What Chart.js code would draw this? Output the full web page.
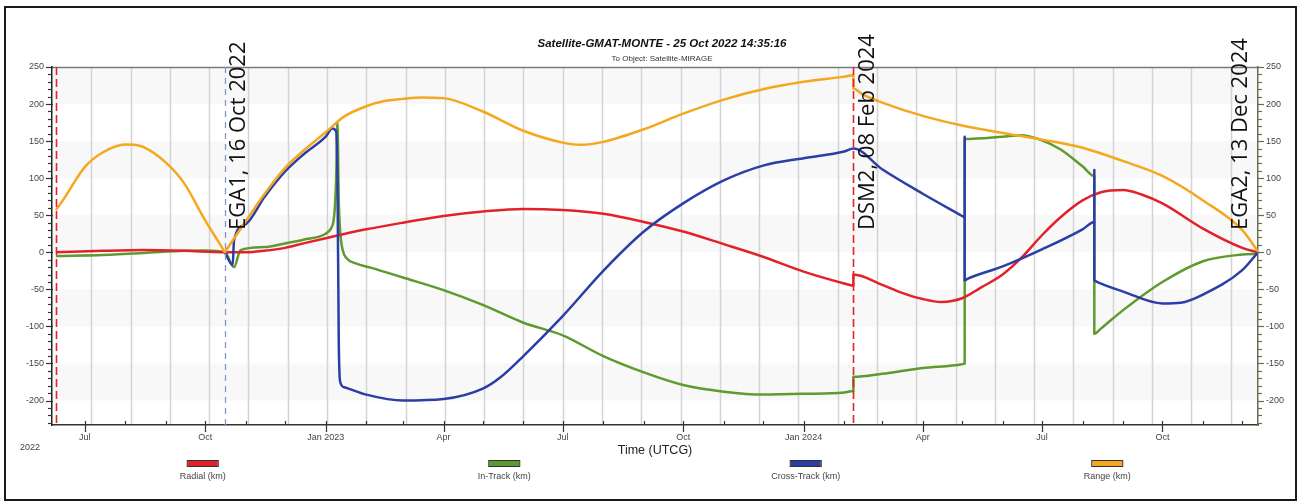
<!DOCTYPE html>
<html><head><meta charset="utf-8">
<script src="https://cdn.jsdelivr.net/npm/chart.js@4.4.1/dist/chart.umd.min.js"></script>
<style>
html,body{margin:0;padding:0;background:#fff;}
#wrap{position:relative;width:1301px;height:502px;overflow:hidden;background:#fff;}
#frame{position:absolute;left:4px;top:6px;width:1293px;height:495px;border:2.5px solid #1a1a1a;box-sizing:border-box;pointer-events:none;}
canvas{position:absolute;left:0;top:0;}
</style></head><body>
<div id="wrap"><canvas id="c" width="1301" height="502"></canvas><div id="frame"></div></div>
<script>
// ---------- DATA ----------
const chartTitle = 'Satellite-GMAT-MONTE - 25 Oct 2022 14:35:16';
const chartSubtitle = 'To Object: Satellite-MIRAGE';
const xAxisTitle = 'Time (UTCG)';
const yearLabel = '2022';
const xStart = '2022-06-06';
const xEnd = '2024-12-13';
const yMin = -233, yMax = 250;

const quarterDates  = ['2022-07-01','2022-10-01','2023-01-01','2023-04-01','2023-07-01','2023-10-01','2024-01-01','2024-04-01','2024-07-01','2024-10-01'];
const quarterLabels = ['Jul','Oct','Jan 2023','Apr','Jul','Oct','Jan 2024','Apr','Jul','Oct'];

const seriesNames  = ['Radial (km)','In-Track (km)','Cross-Track (km)','Range (km)'];
const seriesColors = ['#e3212b','#5f9a2e','#2b3ea6','#f5a71e'];

const radialDates = ['2022-06-09','2022-07-15','2022-08-15','2022-09-15','2022-10-16','2022-11-01','2022-11-15','2022-12-01','2022-12-15','2023-01-01','2023-02-01','2023-03-01','2023-04-01','2023-05-01','2023-06-01','2023-07-01','2023-08-01','2023-09-01','2023-10-01','2023-11-01','2023-12-01','2024-01-01','2024-02-01','2024-02-08','2024-02-08','2024-03-01','2024-03-15','2024-04-01','2024-04-15','2024-05-01','2024-05-15','2024-06-01','2024-06-15','2024-07-01','2024-07-15','2024-08-01','2024-08-15','2024-09-01','2024-09-15','2024-10-01','2024-11-01','2024-12-01','2024-12-13'];
const radialKm    = [0,2,3,2,0,0,2,6,12,19,31,40,49,55,58.5,57,52,41,28,11,-6,-26,-42,-45,-30,-44,-54,-63,-67,-62,-48,-30,-8,23,47,70,81,84,78,66,32,6,0];

const inTrackDates = ['2022-06-09','2022-07-15','2022-08-15','2022-09-15','2022-10-01','2022-10-16','2022-10-23','2022-10-28','2022-11-15','2022-12-01','2022-12-15','2023-01-01','2023-01-05','2023-01-07','2023-01-08','2023-01-09','2023-01-10','2023-01-11','2023-01-12','2023-01-14','2023-01-17','2023-01-24','2023-02-05','2023-03-01','2023-04-01','2023-05-01','2023-06-01','2023-07-01','2023-08-01','2023-09-01','2023-10-01','2023-11-01','2023-12-01','2024-01-01','2024-02-01','2024-02-08','2024-02-08','2024-03-01','2024-04-01','2024-05-01','2024-05-03','2024-05-03','2024-06-01','2024-06-15','2024-07-01','2024-07-15','2024-08-01','2024-08-10','2024-08-10','2024-08-15','2024-09-01','2024-10-01','2024-11-01','2024-12-01','2024-12-13'];
const inTrackKm    = [-5,-3.5,-1,2,2.5,0,-20,3,7,12,17,25,32,42,60,100,176,70,30,3,-8,-15,-21,-34,-51,-71,-95,-112,-140,-162,-179,-188,-192,-191,-189,-187,-168,-164,-156,-151,-150,153,156,158,151,139,116,103,-110,-103,-78,-40,-12,-3,-2];

const crossTrackDates = ['2022-10-16','2022-10-22','2022-10-23','2022-11-01','2022-11-15','2022-12-01','2022-12-15','2023-01-01','2023-01-06','2023-01-09','2023-01-10','2023-01-11','2023-01-12','2023-01-15','2023-02-01','2023-03-01','2023-04-01','2023-05-01','2023-05-15','2023-06-01','2023-07-01','2023-08-01','2023-09-01','2023-10-01','2023-11-01','2023-12-01','2024-01-01','2024-02-01','2024-02-08','2024-03-01','2024-04-01','2024-05-01','2024-05-03','2024-05-03','2024-05-03','2024-05-05','2024-06-01','2024-07-01','2024-08-01','2024-08-10','2024-08-10','2024-08-10','2024-08-12','2024-09-01','2024-10-01','2024-10-15','2024-11-01','2024-12-01','2024-12-13'];
const crossTrackKm    = [0,-17,16,38,74,109,132,156,167,163,100,-120,-174,-182,-192,-200,-198,-184,-168,-140,-86,-25,28,66,97,117,127,136,140,112,79,49,47,156,-38,-36,-19,4,31,41,111,-38,-40,-53,-69,-68,-57,-24,0];

const rangeDates = ['2022-06-09','2022-06-15','2022-07-01','2022-07-15','2022-08-01','2022-08-08','2022-08-15','2022-09-01','2022-09-15','2022-10-01','2022-10-08','2022-10-15','2022-10-16','2022-10-17','2022-10-22','2022-11-01','2022-11-15','2022-12-01','2022-12-15','2023-01-01','2023-01-15','2023-02-01','2023-02-15','2023-03-01','2023-03-15','2023-04-01','2023-05-01','2023-06-01','2023-07-01','2023-07-15','2023-08-01','2023-09-01','2023-10-01','2023-11-01','2023-12-01','2024-01-01','2024-02-01','2024-02-08','2024-02-08','2024-02-15','2024-03-01','2024-04-01','2024-05-01','2024-06-01','2024-07-01','2024-08-01','2024-09-01','2024-10-01','2024-11-01','2024-12-01','2024-12-13'];
const rangeKm    = [57,72,115,135,145.5,145,142,121,93,43,23,3,0,2.7,16,42,78,114,137,162,183,197,204,207,209,208,190,164,148,145,149,166,187,206,220,230,237,239,221,213,202,184,171,161,152,141,123,103,70,30,1];

const eventDates  = ['2022-06-09','2022-10-16','2024-02-08','2024-12-13'];
const eventLabels = ['','EGA1, 16 Oct 2022','DSM2, 08 Feb 2024','EGA2, 13 Dec 2024'];

// ---------- HELPERS ----------
const DAY0 = Date.UTC(2022,0,1);
function toDay(s){const p=s.split('-').map(Number);return (Date.UTC(p[0],p[1]-1,p[2])-DAY0)/86400000;}
function pts(dates, vals){return dates.map((d,i)=>({x:toDay(d),y:vals[i]}));}

const monthTicks = [];
for (let y=2022; y<=2024; y++) for (let m=0; m<12; m++) {
  const d = (Date.UTC(y,m,1)-DAY0)/86400000;
  if (d >= toDay(xStart) && d <= toDay(xEnd)) monthTicks.push(d);
}
const quarterDays = quarterDates.map(toDay);
const yTickVals = [];
for (let v=-230; v<=250; v+=10) yTickVals.push(v);

const FONT = '"Liberation Sans", Arial, sans-serif';

const decor = {
  id:'decor',
  beforeDraw(chart){
    const {ctx, chartArea:a, scales} = chart;
    const y = scales.y, x = scales.x;
    ctx.save();
    ctx.fillStyle = '#f8f8f8';
    for (let v=250; v>yMin; v-=100){
      const top = y.getPixelForValue(v), bot = y.getPixelForValue(Math.max(v-50, yMin));
      ctx.fillRect(a.left, top, a.right-a.left, bot-top);
    }
    ctx.strokeStyle = '#d4d4d4'; ctx.lineWidth = 1.5;
    for (let d = toDay('2022-07-06'); d < toDay(xEnd); d += 30){
      const px = Math.round(x.getPixelForValue(d))+0.5;
      if (px <= a.left+1 || px >= a.right-1) continue;
      ctx.beginPath(); ctx.moveTo(px, a.top); ctx.lineTo(px, a.bottom); ctx.stroke();
    }
    ctx.restore();
  },
  afterDatasetsDraw(chart){
    const {ctx, chartArea:a, scales} = chart;
    const x = scales.x, y = scales.y;
    ctx.save();
    ctx.strokeStyle = '#7a7a7a'; ctx.lineWidth = 1.5;
    ctx.beginPath(); ctx.moveTo(a.left, a.top+0.5); ctx.lineTo(a.right, a.top+0.5); ctx.stroke();
    eventDates.forEach((d,i)=>{
      if (i===3) return;
      const px = Math.round(x.getPixelForValue(toDay(d)))+0.5;
      ctx.setLineDash(i===1 ? [6,5] : [8,4]);
      ctx.strokeStyle = i===1 ? '#7f98c8' : '#e3212b';
      ctx.lineWidth = i===1 ? 1.3 : 1.6;
      ctx.beginPath(); ctx.moveTo(px, a.top); ctx.lineTo(px, a.bottom); ctx.stroke();
    });
    ctx.setLineDash([]);
    ctx.strokeStyle = '#333'; ctx.lineWidth = 1.2;
    monthTicks.forEach(d=>{
      const px = Math.round(x.getPixelForValue(d))+0.5;
      const major = quarterDays.includes(d);
      ctx.beginPath(); ctx.moveTo(px, a.bottom-4); ctx.lineTo(px, a.bottom+(major?7:0)); ctx.stroke();
    });
    yTickVals.forEach(v=>{
      const py = Math.round(y.getPixelForValue(v))+0.5;
      const major = v%50===0;
      ctx.strokeStyle = '#333';
      ctx.beginPath(); ctx.moveTo(a.left-(major?6:4), py); ctx.lineTo(a.left+(major?1:0), py); ctx.stroke();
      ctx.strokeStyle = '#6b6b50';
      ctx.beginPath(); ctx.moveTo(a.right+(major?6:4), py); ctx.lineTo(a.right-(major?1:0), py); ctx.stroke();
    });
    ctx.fillStyle = '#111';
    ctx.font = '22px "Open Sans", "Noto Sans", sans-serif';
    ctx.textAlign = 'left'; ctx.textBaseline = 'middle';
    eventDates.forEach((d,i)=>{
      if (!eventLabels[i]) return;
      const px = x.getPixelForValue(toDay(d));
      const cx = i===3 ? px-17 : px+14;
      ctx.save(); ctx.translate(cx, 230); ctx.rotate(-Math.PI/2);
      ctx.fillText(eventLabels[i], 0, 0); ctx.restore();
    });
    const mid = (a.left+a.right)/2 + 7;
    ctx.textAlign = 'center';
    ctx.fillStyle = '#111';
    ctx.font = 'italic bold 11.5px ' + FONT;
    ctx.fillText(chartTitle, mid, 44);
    ctx.font = '8px ' + FONT;
    ctx.fillStyle = '#333';
    ctx.fillText(chartSubtitle, mid, 59);
    ctx.font = '12.5px ' + FONT; ctx.fillStyle = '#222';
    ctx.fillText(xAxisTitle, (a.left+a.right)/2, 451);
    ctx.font = '9px ' + FONT; ctx.fillStyle = '#444';
    ctx.fillText(yearLabel, 30, 448);
    const w = (a.right-a.left)/4;
    chart.data.datasets.forEach((ds,i)=>{
      const cx = a.left + (i+0.5)*w;
      ctx.fillStyle = ds.borderColor;
      ctx.fillRect(cx-15, 461, 30, 5);
      ctx.strokeStyle = '#333'; ctx.lineWidth = 1;
      ctx.strokeRect(cx-15.5, 460.5, 31, 6);
      ctx.fillStyle = '#444'; ctx.font = '9px ' + FONT;
      ctx.fillText(ds.label, cx, 477);
    });
    ctx.restore();
  }
};

const allDates = [radialDates, inTrackDates, crossTrackDates, rangeDates];
const allVals = [radialKm, inTrackKm, crossTrackKm, rangeKm];
const drawOrder = [2,3,1,0];

const datasets = seriesNames.map((n,i)=>({
  label:n,
  data:pts(allDates[i], allVals[i]),
  borderColor:seriesColors[i],
  backgroundColor:seriesColors[i],
  borderWidth:2.5,
  pointRadius:0,
  cubicInterpolationMode:'monotone',
  order:drawOrder[i],
  borderJoinStyle:'round'
}));

const yTicksCommon = {
  autoSkip:false,
  padding:8,
  color:'#444',
  font:{family:FONT, size:9},
  callback:(v)=> (v%50===0 ? String(v) : '')
};

new Chart(document.getElementById('c'), {
  type:'line',
  data:{datasets},
  options:{
    responsive:false,
    animation:false,
    devicePixelRatio:1,
    layout:{padding:{top:67,bottom:57,left:0,right:0}},
    plugins:{legend:{display:false}, title:{display:false}, tooltip:{enabled:false}},
    scales:{
      x:{
        type:'linear',
        min:toDay(xStart), max:toDay(xEnd),
        afterBuildTicks:(s)=>{ s.ticks = monthTicks.map(v=>({value:v})); },
        afterFit:(s)=>{ s.height = 20; },
        grid:{drawOnChartArea:false, drawTicks:false},
        border:{display:true, color:'#333', width:1.5},
        ticks:{autoSkip:false, maxRotation:0, padding:7, color:'#444', font:{family:FONT,size:9},
          callback:(v)=>{ const k = quarterDays.indexOf(v); return k>=0 ? quarterLabels[k] : ''; }}
      },
      y:{
        type:'linear', position:'left', min:yMin, max:yMax,
        afterBuildTicks:(s)=>{ s.ticks = yTickVals.map(v=>({value:v})); },
        afterFit:(s)=>{ s.width = 52; },
        grid:{drawOnChartArea:false, drawTicks:false},
        border:{display:true, color:'#222', width:1.5},
        ticks:yTicksCommon
      },
      y2:{
        type:'linear', position:'right', min:yMin, max:yMax,
        afterBuildTicks:(s)=>{ s.ticks = yTickVals.map(v=>({value:v})); },
        afterFit:(s)=>{ s.width = 43; },
        grid:{drawOnChartArea:false, drawTicks:false},
        border:{display:true, color:'#6b6b50', width:1.5},
        ticks:yTicksCommon
      }
    }
  },
  plugins:[decor]
});
</script>
</body></html>
